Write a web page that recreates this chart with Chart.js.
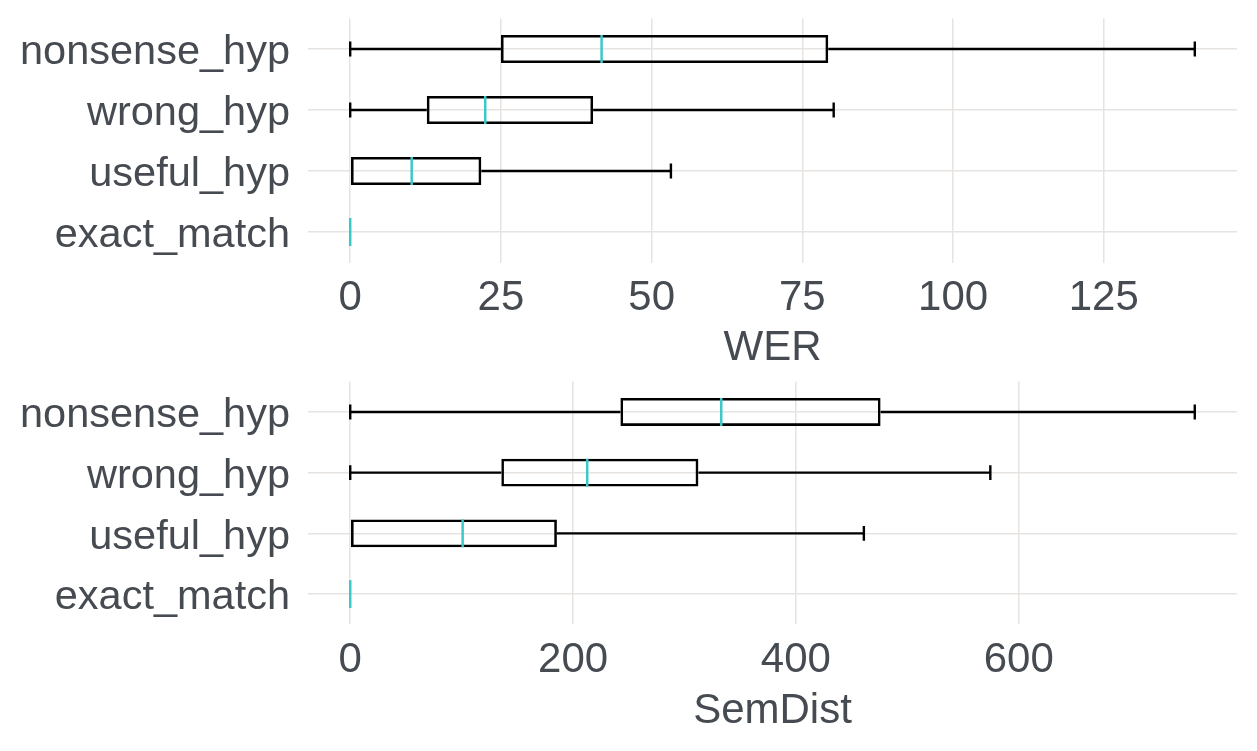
<!DOCTYPE html>
<html>
<head>
<meta charset="utf-8">
<script src="https://cdn.jsdelivr.net/npm/chart.js@4.4.1/dist/chart.umd.min.js"></script>
<style>
  html, body { margin: 0; padding: 0; background: #fff; }
  canvas { display: block; position: absolute; left: 0; }
</style>
</head>
<body>
<canvas id="werChart" width="1257" height="375" style="top:0"></canvas>
<canvas id="semChart" width="1257" height="376" style="top:375px"></canvas>
<script>
// categories, top to bottom
const categories = ['nonsense_hyp', 'wrong_hyp', 'useful_hyp', 'exact_match'];

// WER box stats
const werMin    = [0, 0, 0, 0];
const werQ1     = [25.0, 12.7, 0, 0];
const werMedian = [41.7, 22.4, 10.2, 0];
const werQ3     = [79.3, 40.3, 21.75, 0];
const werMax    = [140.1, 80.2, 53.2, 0];
const werTicks  = [0, 25, 50, 75, 100, 125];

// SemDist box stats
const semMin    = [0, 0, 0, 0];
const semQ1     = [242.5, 135.6, 0, 0];
const semMedian = [333, 212.7, 100.9, 0];
const semQ3     = [476, 312.5, 185.5, 0];
const semMax    = [758, 574.5, 461, 0];
const semTicks  = [0, 200, 400, 600];

const TEXT = '#464a51';
const GRID = '#e6e3e0';
const MEDIAN = '#3cc8c8';
const BOX_FRAC = 0.46;   // box height as share of the category band
const CAP_FRAC = 0.246;  // whisker cap height as share of the band
const FONT = "'Liberation Sans', Arial, sans-serif";

// whiskers under the boxes, medians on top
const boxPlotPlugin = {
  id: 'boxWhiskers',
  beforeDatasetsDraw(chart, args, opts) {
    const { ctx } = chart;
    const x = chart.scales.x, y = chart.scales.y;
    const band = Math.abs(y.getPixelForValue(1) - y.getPixelForValue(0));
    const capH = band * CAP_FRAC / 2;
    ctx.save();
    ctx.strokeStyle = '#000';
    ctx.lineWidth = 2.4;
    opts.min.forEach((mn, i) => {
      if (mn === opts.max[i]) return;
      const cy = y.getPixelForValue(i);
      const xMin = x.getPixelForValue(mn);
      const xQ1 = x.getPixelForValue(opts.q1[i]);
      const xQ3 = x.getPixelForValue(opts.q3[i]);
      const xMax = x.getPixelForValue(opts.max[i]);
      ctx.beginPath();
      if (xQ1 > xMin) {
        ctx.moveTo(xMin, cy); ctx.lineTo(xQ1, cy);
        ctx.moveTo(xMin, cy - capH); ctx.lineTo(xMin, cy + capH);
      }
      ctx.moveTo(xQ3, cy); ctx.lineTo(xMax, cy);
      ctx.moveTo(xMax, cy - capH); ctx.lineTo(xMax, cy + capH);
      ctx.stroke();
    });
    ctx.restore();
  },
  afterDatasetsDraw(chart, args, opts) {
    const { ctx } = chart;
    const x = chart.scales.x, y = chart.scales.y;
    const band = Math.abs(y.getPixelForValue(1) - y.getPixelForValue(0));
    const half = band * BOX_FRAC / 2;
    ctx.save();
    ctx.strokeStyle = MEDIAN;
    ctx.lineWidth = 2.5;
    opts.median.forEach((m, i) => {
      const cy = y.getPixelForValue(i);
      const px = x.getPixelForValue(m);
      ctx.beginPath();
      ctx.moveTo(px, cy - half);
      ctx.lineTo(px, cy + half);
      ctx.stroke();
    });
    ctx.restore();
  }
};

function makeBoxChart(canvasId, stats, ticks, range, title, lay) {
  return new Chart(document.getElementById(canvasId), {
    type: 'bar',
    data: {
      labels: categories,
      datasets: [{
        data: categories.map((c, i) => stats.q1[i] === stats.q3[i] ? null : [stats.q1[i], stats.q3[i]]),
        backgroundColor: 'rgba(0,0,0,0)',
        borderColor: '#000',
        borderWidth: 2.6,
        borderSkipped: false,
        barPercentage: BOX_FRAC,
        categoryPercentage: 1,
      }],
    },
    options: {
      indexAxis: 'y',
      responsive: false,
      animation: false,
      layout: { padding: { top: lay.top, right: 20, left: 0, bottom: 0 } },
      scales: {
        y: {
          grid: { color: GRID, lineWidth: 1.5, offset: false, drawTicks: false },
          border: { display: false },
          ticks: { color: TEXT, font: { family: FONT, size: 41.5 }, padding: 18, autoSkip: false, labelOffset: 4 },
          afterFit: (s) => { s.width = 308; s.paddingTop = 0; s.paddingBottom = 0; },
        },
        x: {
          type: 'linear',
          min: range[0],
          max: range[1],
          afterBuildTicks: (s) => { s.ticks = ticks.map(v => ({ value: v })); },
          grid: { color: GRID, lineWidth: 1.5, drawTicks: false },
          border: { display: false },
          ticks: { color: TEXT, font: { family: FONT, size: 42 }, padding: lay.tickPad },
          title: {
            display: true, text: title, color: TEXT,
            font: { family: FONT, size: 42 },
            padding: { top: 0, bottom: lay.titlePad },
          },
          afterFit: (s) => { s.height = lay.axisH; },
        },
      },
      plugins: {
        legend: { display: false },
        tooltip: { enabled: false },
        boxWhiskers: stats,
      },
    },
    plugins: [boxPlotPlugin],
  });
}

makeBoxChart('werChart',
  { min: werMin, q1: werQ1, median: werMedian, q3: werQ3, max: werMax },
  werTicks, [-7.0, 147.1], 'WER',
  { top: 18.5, axisH: 112.5, tickPad: 11, titlePad: 1 });

makeBoxChart('semChart',
  { min: semMin, q1: semQ1, median: semMedian, q3: semQ3, max: semMax },
  semTicks, [-37.9, 795.9], 'SemDist',
  { top: 6.6, axisH: 126.6, tickPad: 11, titlePad: 14 });
</script>
</body>
</html>
